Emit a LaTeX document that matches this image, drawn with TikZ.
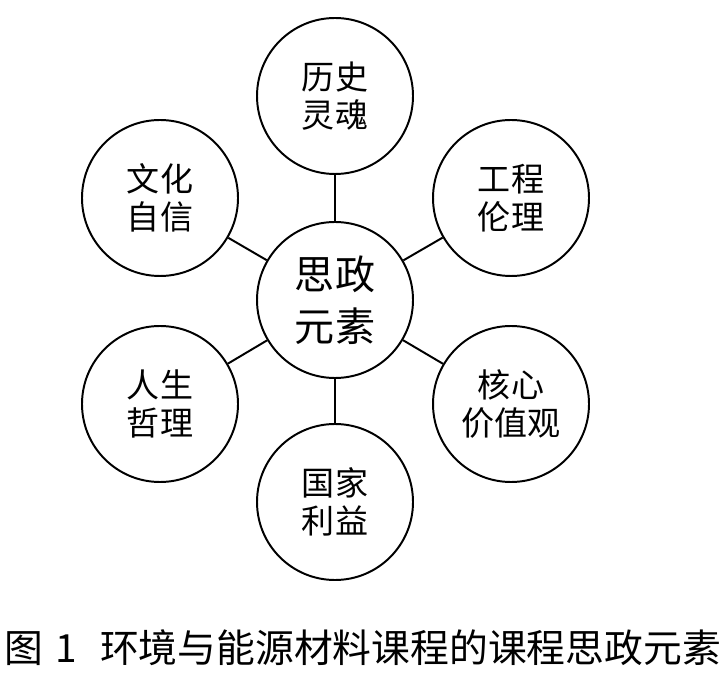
\documentclass[tikz,border=0pt]{standalone}
\usepackage{fontspec}
\setmainfont{Noto Sans CJK SC}
\usepackage{tikz}

\begin{document}
\begin{tikzpicture}[yuan/.style={draw,circle,line width=1.4pt,minimum size=3.9cm,inner sep=0pt,align=center,font=\fontsize{23.5}{27}\selectfont},
	lian/.style={line width=1.4pt}]
	  \useasboundingbox (0,0) rectangle (18.025,16.8);
	  \node[yuan,font=\fontsize{28.5}{37}\selectfont] (core) at (8.375,9.3) {思政\\元素};
	  \node[yuan] (lishi) at (8.375,14.4) {历史\\灵魂};
	  \node[yuan] (wenhua) at (4.0,11.85) {文化\\自信};
	  \node[yuan] (gongcheng) at (12.775,11.85) {工程\\伦理};
	  \node[yuan] (rensheng) at (4.0,6.7) {人生\\哲理};
	  \node[yuan] (hexin) at (12.775,6.7) {核心\\价值观};
	  \node[yuan] (guojia) at (8.375,4.25) {国家\\利益};
	  \draw[lian] (core) -- (lishi);
	  \draw[lian] (core) -- (wenhua);
	  \draw[lian] (core) -- (gongcheng);
	  \draw[lian] (core) -- (rensheng);
	  \draw[lian] (core) -- (hexin);
	  \draw[lian] (core) -- (guojia);
	  \node[font=\fontsize{27.6}{30}\selectfont] (tuming) at (9.07,0.62) {图\hspace{0.3em}1\hspace{0.6em}环境与能源材料课程的课程思政元素};
	\end{tikzpicture}
\end{document}
